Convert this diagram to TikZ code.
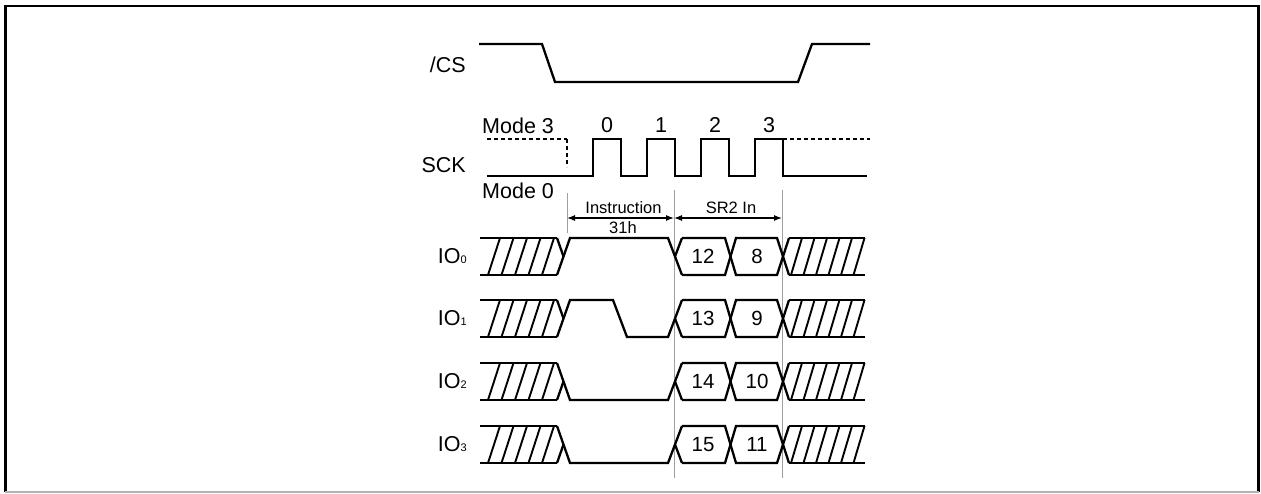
\documentclass[tikz,border=0pt]{standalone}
\usepackage{fontspec}
\setmainfont{Liberation Sans}
\usetikzlibrary{arrows.meta}
\begin{document}
\begin{tikzpicture}[x=1pt,y=-1pt,
  sig/.style={line width=2.3pt, line join=miter, line cap=butt},
  hatch/.style={line width=1.9pt},
  guide/.style={line width=0.8pt, draw=gray!75},
  dim/.style={line width=1.1pt, {Latex[length=8pt,width=6pt]}-{Latex[length=8pt,width=6pt]}},
  lbl/.style={inner sep=0pt, font=\fontsize{21.5}{24}\selectfont},
  small/.style={inner sep=0pt, font=\fontsize{16.5}{19}\selectfont},
  num/.style={inner sep=0pt, font=\fontsize{20.5}{23}\selectfont}]
\useasboundingbox (0,0) rectangle (1261,493);
% frame
\draw[line width=2.5pt] (5.3,492) -- (5.3,6) -- (1258.5,6) -- (1258.5,492);
\draw[line width=1.5pt, gray!60] (5.3,492) -- (1258.5,492);

% labels
\node[lbl, anchor=base east] (cs) at (466,72.5) {/CS};
\node[lbl, anchor=base east] (sck) at (466,172) {SCK};
\node[lbl, anchor=base west] (m3) at (482,133) {Mode 3};
\node[lbl, anchor=base west] (m0) at (482,198) {Mode 0};
\node[lbl, anchor=base] (p0) at (607,132) {0};
\node[lbl, anchor=base] (p1) at (661,132) {1};
\node[lbl, anchor=base] (p2) at (715,132) {2};
\node[lbl, anchor=base] (p3) at (769,132) {3};

% /CS
\draw[sig] (479,44) -- (542,44) -- (555,82) -- (798,82) -- (812,44) -- (870,44);

% SCK
\draw[sig, dash pattern=on 4pt off 3pt] (487,139) -- (567,139);
\draw[sig, dash pattern=on 4pt off 3pt] (567,139) -- (567,167);
\draw[sig, dash pattern=on 4pt off 3pt] (783,139) -- (870,139);
\draw[sig] (487,176) -- (593,176) -- (593,139) -- (621,139) -- (621,176)
  -- (647,176) -- (647,139) -- (675,139) -- (675,176)
  -- (701,176) -- (701,139) -- (729,139) -- (729,176)
  -- (755,176) -- (755,139) -- (783,139) -- (783,176) -- (867,176);

% guide lines
\coordinate (g0t) at (567,193);
\coordinate (g0b) at (567,233);
\coordinate (g1t) at (674,190);
\coordinate (g1b) at (674,478);
\coordinate (g2t) at (782,190);
\coordinate (g2b) at (782,478);
\draw[guide] (g0t) -- (g0b);
\draw[guide] (g1t) -- (g1b);
\draw[guide] (g2t) -- (g2b);
\coordinate (a0) at (567,218);
\coordinate (a1) at (674,218);
\coordinate (a2) at (782,218);
\draw[dim] (a0) -- (a1);
\draw[dim] (a1) -- (a2);
\node[small, anchor=base] (instr) at (623.5,213) {Instruction};
\node[small, anchor=base] (h31) at (623,233) {31h};
\node[small, anchor=base] (sr2) at (731,213) {SR2 In};

% IO rows
\foreach \yt/\sub/\na/\nb/\kind in {238/0/12/8/0, 300/1/13/9/1, 363/2/14/10/2, 426/3/15/11/2}{
  \begin{scope}[shift={(0,\yt)}]
    \node[lbl, anchor=base east] at (467,25) {IO{\fontsize{11}{11}\selectfont\sub}};
    % left hatched bus
    \draw[sig] (480,0) -- (557,0);
    \draw[sig] (480,37) -- (557,37);
    \foreach \b in {488,501.5,515,528.5,542}{\draw[hatch] (\b,37) -- ++(12,-37);}
    % right hatched bus
    \draw[sig] (789,0) -- (865,0);
    \draw[sig] (789,37) -- (865,37);
    \foreach \b in {791,803.5,816,828.5,841,853.5}{\draw[hatch] (\b,37) -- ++(11,-37);}
    % hex data cells
    \draw[sig] (682,0) -- (725,0) -- (736,37) -- (777,37) -- (789,0);
    \draw[sig] (682,37) -- (725,37) -- (736,0) -- (777,0) -- (789,37);
    \node[num, anchor=base] at (703,25.5) {\na};
    \node[num, anchor=base] at (757,25.5) {\nb};
    \ifnum\kind=0
      \draw[sig] (557,0) -- (563.5,18.5);
      \draw[sig] (557,37) -- (570,0) -- (668,0) -- (682,37);
      \draw[sig] (675,18.5) -- (682,0);
    \fi
    \ifnum\kind=1
      \draw[sig] (557,0) -- (563.5,18.5);
      \draw[sig] (557,37) -- (570,0) -- (613,0) -- (627,37) -- (668,37) -- (682,0);
      \draw[sig] (675,18.5) -- (682,37);
    \fi
    \ifnum\kind=2
      \draw[sig] (557,37) -- (563.5,18.5);
      \draw[sig] (557,0) -- (570,37) -- (668,37) -- (682,0);
      \draw[sig] (675,18.5) -- (682,37);
    \fi
  \end{scope}
}
\end{tikzpicture}
\end{document}
